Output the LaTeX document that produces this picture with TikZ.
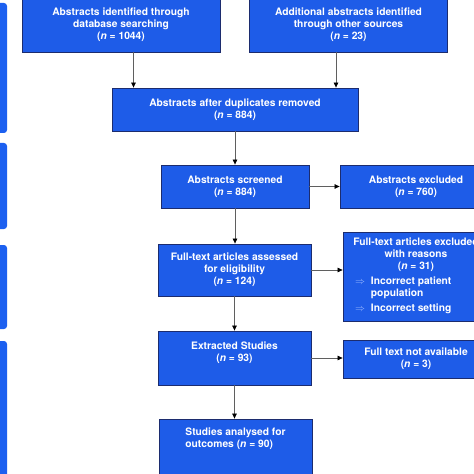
\documentclass[tikz,border=0pt]{standalone}
\usepackage{fontspec}
\setmainfont{TeX Gyre Heros}
\usetikzlibrary{arrows.meta}
\definecolor{boxblue}{RGB}{30,92,232}
\definecolor{barblue}{RGB}{28,96,240}
\definecolor{boxedge}{RGB}{28,44,110}
\definecolor{linegray}{RGB}{95,95,95}
\definecolor{arrowblue}{RGB}{160,190,255}
\begin{document}
\begin{tikzpicture}[x=1bp,y=-1bp,
  box/.style={draw=boxedge, line width=0.8bp, fill=boxblue, text=white,
    font=\fontsize{10.3}{12.2}\selectfont\bfseries, align=center, inner sep=0pt},
  bar/.style={fill=barblue, rounded corners=3bp, inner sep=0pt, minimum width=13bp},
  arr/.style={draw=linegray, line width=0.7bp, -{Triangle[length=5bp,width=4.5bp,color=black]}}]
\path[use as bounding box] (0,0) rectangle (474,474);
\clip (0,0) rectangle (474,474);
% side bars
\node[bar, minimum height=130bp] (bar1) at (0.5,68) {};
\node[bar, minimum height=86bp] (bar2) at (0.5,186) {};
\node[bar, minimum height=84bp] (bar3) at (0.5,287) {};
\node[bar, minimum height=149bp] (bar4) at (0.5,415.5) {};
% boxes
\node[box, minimum width=198bp, minimum height=54bp] (a1) at (121,25)
  {Abstracts identified through\\database searching\\(\textit{n} = 1044)};
\node[box, minimum width=198bp, minimum height=54bp] (a2) at (348.5,25)
  {Additional abstracts identified\\through other sources\\(\textit{n} = 23)};
\node[box, minimum width=246bp, minimum height=43bp] (dup) at (235,109.5)
  {Abstracts after duplicates removed\\(\textit{n} = 884)};
\node[box, minimum width=148bp, minimum height=43bp] (scr) at (235,186.5)
  {Abstracts screened\\(\textit{n} = 884)};
\node[box, minimum width=152bp, minimum height=43bp] (exc) at (416,186.5)
  {Abstracts excluded\\(\textit{n} = 760)};
\node[box, minimum width=153bp, minimum height=52bp] (ass) at (234.5,270)
  {Full-text articles assessed\\for eligibility\\(\textit{n} = 124)};
\node[box, minimum width=146bp, minimum height=89bp] (ftx) at (416,276.5)
  {Full-text articles excluded\\with reasons\\(\textit{n} = 31)\\[3bp]%
   \makebox[122bp][l]{\begin{tabular}[t]{@{}l@{\hspace{6bp}}l@{}}%
   {\color{arrowblue}$\Rightarrow$} & Incorrect patient\\
    & population\\[3bp]
   {\color{arrowblue}$\Rightarrow$} & Incorrect setting\end{tabular}}};
\node[box, minimum width=153bp, minimum height=54bp] (ext) at (234.5,358)
  {Extracted Studies\\(\textit{n} = 93)\\\mbox{}};
\node[box, minimum width=146bp, minimum height=38bp] (na) at (416,359)
  {Full text not available\\(\textit{n} = 3)};
\node[box, minimum width=153bp, minimum height=61bp, align=left] (ana) at (235.5,449.5)
  {Studies analysed for\\outcomes (\textit{n} = 90)\\\mbox{}\\\mbox{}};
% connectors
\draw[arr] ([xshift=12.5bp]a1.south) -- ([xshift=12.5bp]a1.south |- dup.north);
\draw[arr] ([xshift=-12.5bp]a2.south) -- ([xshift=-12.5bp]a2.south |- dup.north);
\draw[arr] (dup.south) -- (scr.north);
\draw[arr] (scr.east) -- (exc.west);
\draw[arr] (scr.south) -- (scr.south |- ass.north);
\draw[arr] (ass.east) -- (ass.east -| ftx.west);
\draw[arr] (ass.south) -- (ext.north);
\draw[arr] (ext.east) -- (ext.east -| na.west);
\draw[arr] (ext.south) -- (ext.south |- ana.north);
\end{tikzpicture}
\end{document}
